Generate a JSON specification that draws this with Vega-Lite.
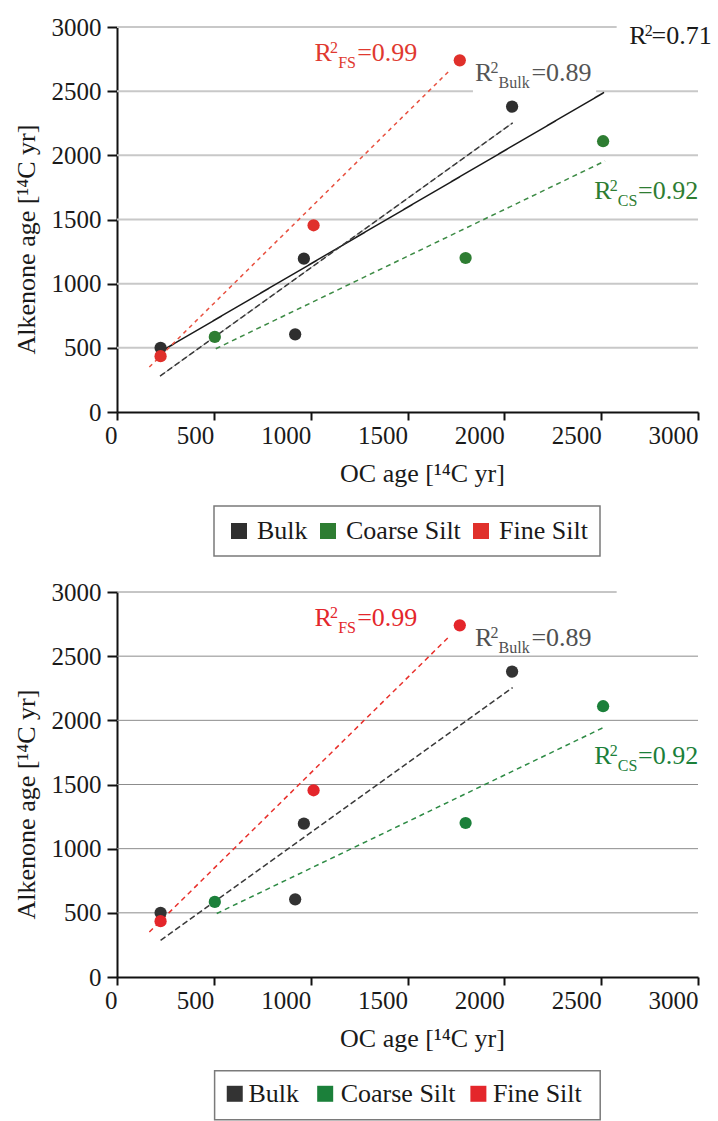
{
  "$schema": "https://vega.github.io/schema/vega-lite/v6.json",
  "background": "white",
  "padding": {"left": 13, "top": 15, "right": 0, "bottom": 2},
  "spacing": 23,
  "config": {
    "view": {"stroke": null},
    "font": "Liberation Serif",
    "axis": {
      "labelFont": "Liberation Serif", "titleFont": "Liberation Serif",
      "labelFontSize": 25, "titleFontSize": 26, "titleFontWeight": "normal",
      "labelColor": "#1a1a1a", "titleColor": "#1a1a1a",
      "domainColor": "#111", "domainWidth": 2, "tickColor": "#111", "tickWidth": 2,
      "grid": false, "format": "d"
    },
    "legend": {
      "direction": "horizontal",
      "symbolType": "square", "symbolSize": 256, "symbolStrokeWidth": 0, "symbolOpacity": 1,
      "labelFont": "Liberation Serif", "labelFontSize": 26, "labelColor": "#1a1a1a",
      "labelOffset": 5, "columnPadding": 7, "padding": 12,
      "strokeColor": "#7a7a7a", "strokeWidth": 1.5, "fillColor": "white", "title": null
    }
  },
  "datasets": {
    "points": [
      {"panel": 1, "series": "Bulk", "x": 225, "y": 500},
      {"panel": 1, "series": "Bulk", "x": 920, "y": 605},
      {"panel": 1, "series": "Bulk", "x": 965, "y": 1195},
      {"panel": 1, "series": "Bulk", "x": 2040, "y": 2380},
      {"panel": 1, "series": "Coarse Silt", "x": 505, "y": 585},
      {"panel": 1, "series": "Coarse Silt", "x": 1800, "y": 1200},
      {"panel": 1, "series": "Coarse Silt", "x": 2510, "y": 2110},
      {"panel": 1, "series": "Fine Silt", "x": 225, "y": 435},
      {"panel": 1, "series": "Fine Silt", "x": 1015, "y": 1455},
      {"panel": 1, "series": "Fine Silt", "x": 1770, "y": 2740},
      {"panel": 2, "series": "Bulk", "x": 225, "y": 500},
      {"panel": 2, "series": "Bulk", "x": 920, "y": 605},
      {"panel": 2, "series": "Bulk", "x": 965, "y": 1195},
      {"panel": 2, "series": "Bulk", "x": 2040, "y": 2380},
      {"panel": 2, "series": "Coarse Silt", "x": 505, "y": 585},
      {"panel": 2, "series": "Coarse Silt", "x": 1800, "y": 1200},
      {"panel": 2, "series": "Coarse Silt", "x": 2510, "y": 2110},
      {"panel": 2, "series": "Fine Silt", "x": 225, "y": 435},
      {"panel": 2, "series": "Fine Silt", "x": 1015, "y": 1455},
      {"panel": 2, "series": "Fine Silt", "x": 1770, "y": 2740}
    ],
    "fits": [
      {"panel": 1, "series": "All", "x": 230, "y": 475},
      {"panel": 1, "series": "All", "x": 2515, "y": 2490},
      {"panel": 1, "series": "Bulk", "x": 222, "y": 280},
      {"panel": 1, "series": "Bulk", "x": 2043, "y": 2253},
      {"panel": 1, "series": "Coarse Silt", "x": 510, "y": 493},
      {"panel": 1, "series": "Coarse Silt", "x": 2520, "y": 1956},
      {"panel": 1, "series": "Fine Silt", "x": 167, "y": 350},
      {"panel": 1, "series": "Fine Silt", "x": 1720, "y": 2665},
      {"panel": 2, "series": "Bulk", "x": 225, "y": 285},
      {"panel": 2, "series": "Bulk", "x": 2043, "y": 2255},
      {"panel": 2, "series": "Coarse Silt", "x": 515, "y": 495},
      {"panel": 2, "series": "Coarse Silt", "x": 2520, "y": 1950},
      {"panel": 2, "series": "Fine Silt", "x": 167, "y": 350},
      {"panel": 2, "series": "Fine Silt", "x": 1720, "y": 2660}
    ],
    "grid": [
      {"panel": 1, "y": 500, "x1": 0, "x2": 3000},
      {"panel": 1, "y": 1000, "x1": 0, "x2": 3000},
      {"panel": 1, "y": 1500, "x1": 0, "x2": 3000},
      {"panel": 1, "y": 2000, "x1": 0, "x2": 3000},
      {"panel": 1, "y": 2500, "x1": 0, "x2": 1838},
      {"panel": 1, "y": 2500, "x1": 2474, "x2": 3000},
      {"panel": 1, "y": 3000, "x1": 0, "x2": 2580},
      {"panel": 2, "y": 500, "x1": 0, "x2": 3000},
      {"panel": 2, "y": 1000, "x1": 0, "x2": 3000},
      {"panel": 2, "y": 1500, "x1": 0, "x2": 3000},
      {"panel": 2, "y": 2000, "x1": 0, "x2": 3000},
      {"panel": 2, "y": 2500, "x1": 0, "x2": 3000},
      {"panel": 2, "y": 3000, "x1": 0, "x2": 2580}
    ],
    "key": [
      {"series": "Bulk", "sx": 608, "lx": 679},
      {"series": "Coarse Silt", "sx": 1075, "lx": 1155},
      {"series": "Fine Silt", "sx": 1866, "lx": 1941}
    ],
    "labels": [
      {"panel": 1, "series": "Fine Silt", "part": "main", "x": 1020, "y": 2737, "text": "R"},
      {"panel": 1, "series": "Fine Silt", "part": "sup", "x": 1100, "y": 2799, "text": "2"},
      {"panel": 1, "series": "Fine Silt", "part": "sub", "x": 1142, "y": 2682, "text": "FS"},
      {"panel": 1, "series": "Fine Silt", "part": "main", "x": 1240, "y": 2737, "text": "=0.99"},
      {"panel": 1, "series": "Bulk", "part": "main", "x": 1848, "y": 2582, "text": "R"},
      {"panel": 1, "series": "Bulk", "part": "sup", "x": 1928, "y": 2644, "text": "2"},
      {"panel": 1, "series": "Bulk", "part": "sub", "x": 1970, "y": 2527, "text": "Bulk"},
      {"panel": 1, "series": "Bulk", "part": "main", "x": 2140, "y": 2582, "text": "=0.89"},
      {"panel": 1, "series": "All", "part": "main", "x": 2645, "y": 2870, "text": "R"},
      {"panel": 1, "series": "All", "part": "sup", "x": 2725, "y": 2932, "text": "2"},
      {"panel": 1, "series": "All", "part": "main", "x": 2760, "y": 2870, "text": "=0.71"},
      {"panel": 1, "series": "Coarse Silt", "part": "main", "x": 2464, "y": 1662, "text": "R"},
      {"panel": 1, "series": "Coarse Silt", "part": "sup", "x": 2544, "y": 1724, "text": "2"},
      {"panel": 1, "series": "Coarse Silt", "part": "sub", "x": 2586, "y": 1607, "text": "CS"},
      {"panel": 1, "series": "Coarse Silt", "part": "main", "x": 2690, "y": 1662, "text": "=0.92"},
      {"panel": 2, "series": "Fine Silt", "part": "main", "x": 1020, "y": 2737, "text": "R"},
      {"panel": 2, "series": "Fine Silt", "part": "sup", "x": 1100, "y": 2799, "text": "2"},
      {"panel": 2, "series": "Fine Silt", "part": "sub", "x": 1142, "y": 2682, "text": "FS"},
      {"panel": 2, "series": "Fine Silt", "part": "main", "x": 1240, "y": 2737, "text": "=0.99"},
      {"panel": 2, "series": "Bulk", "part": "main", "x": 1848, "y": 2582, "text": "R"},
      {"panel": 2, "series": "Bulk", "part": "sup", "x": 1928, "y": 2644, "text": "2"},
      {"panel": 2, "series": "Bulk", "part": "sub", "x": 1970, "y": 2527, "text": "Bulk"},
      {"panel": 2, "series": "Bulk", "part": "main", "x": 2140, "y": 2582, "text": "=0.89"},
      {"panel": 2, "series": "Coarse Silt", "part": "main", "x": 2464, "y": 1662, "text": "R"},
      {"panel": 2, "series": "Coarse Silt", "part": "sup", "x": 2544, "y": 1724, "text": "2"},
      {"panel": 2, "series": "Coarse Silt", "part": "sub", "x": 2586, "y": 1607, "text": "CS"},
      {"panel": 2, "series": "Coarse Silt", "part": "main", "x": 2690, "y": 1662, "text": "=0.92"}
    ]
  },
  "resolve": {
    "scale": {"color": "independent", "stroke": "independent", "fill": "independent", "strokeDash": "independent"},
    "legend": {"color": "independent", "fill": "independent"}
  },
  "vconcat": [
    {
      "width": 581, "height": 385,
      "layer": [
        {
          "data": {"name": "grid"},
          "transform": [{"filter": "datum.panel === 1"}],
          "mark": {"type": "rule", "color": "#c8c8c8", "strokeWidth": 2},
          "encoding": {
            "x": {"field": "x1", "type": "quantitative", "scale": {"domain": [0, 3000], "nice": false}, "title": "OC age [¹⁴C yr]",
              "axis": {"values": [0, 500, 1000, 1500, 2000, 2500, 3000], "tickSize": 8, "labelAlign": "right", "labelDx": 7, "labelPadding": 3, "titlePadding": 12, "titleX": 305}},
            "x2": {"field": "x2"},
            "y": {"field": "y", "type": "quantitative", "scale": {"domain": [0, 3000], "nice": false}, "title": "Alkenone age [¹⁴C yr]",
              "axis": {"values": [0, 250, 500, 750, 1000, 1250, 1500, 1750, 2000, 2250, 2500, 2750, 3000],
                "labelExpr": "datum.value % 500 === 0 ? datum.label : ''",
                "tickSize": {"condition": {"test": "datum.value % 500 === 0", "value": 10}, "value": 5},
                "labelPadding": 6, "labelBaseline": "middle", "labelDy": -3, "titlePadding": 12, "titleY": 212}}
          }
        },
        {
          "data": {"name": "fits"},
          "transform": [{"filter": "datum.panel === 1 && datum.series === 'Bulk'"}],
          "mark": {"type": "line", "color": "#b0b0b0", "strokeWidth": 1},
          "encoding": {
            "x": {"field": "x", "type": "quantitative", "title": "OC age [¹⁴C yr]"},
            "y": {"field": "y", "type": "quantitative", "title": "Alkenone age [¹⁴C yr]"}
          }
        },
        {
          "data": {"name": "fits"},
          "transform": [{"filter": "datum.panel === 1"}],
          "mark": {"type": "line", "strokeWidth": 1.5},
          "encoding": {
            "x": {"field": "x", "type": "quantitative", "title": "OC age [¹⁴C yr]"},
            "y": {"field": "y", "type": "quantitative", "title": "Alkenone age [¹⁴C yr]"},
            "detail": {"field": "series"},
            "stroke": {"field": "series", "type": "nominal", "legend": null,
              "scale": {"domain": ["All", "Bulk", "Coarse Silt", "Fine Silt"], "range": ["#1a1a1a", "#3a3a3a", "#3d8b45", "#e8503f"]}},
            "strokeDash": {"field": "series", "type": "nominal", "legend": null,
              "scale": {"domain": ["All", "Bulk", "Coarse Silt", "Fine Silt"], "range": [[1, 0], [6, 3], [5, 4], [4, 4]]}}
          }
        },
        {
          "data": {"name": "points"},
          "transform": [{"filter": "datum.panel === 1"}],
          "mark": {"type": "circle", "size": 150, "opacity": 1},
          "encoding": {
            "x": {"field": "x", "type": "quantitative", "title": "OC age [¹⁴C yr]"},
            "y": {"field": "y", "type": "quantitative", "title": "Alkenone age [¹⁴C yr]"},
            "color": {"field": "series", "type": "nominal",
              "legend": {"orient": "none", "legendX": 97, "legendY": 479},
              "scale": {"domain": ["Bulk", "Coarse Silt", "Fine Silt"], "range": ["#2f2f2f", "#2e7d32", "#e0302b"]}}
          }
        },
        {
          "data": {"name": "labels"},
          "transform": [{"filter": "datum.panel === 1 && datum.part === 'main'"}],
          "mark": {"type": "text", "align": "left", "baseline": "alphabetic", "fontSize": 26, "font": "Liberation Serif"},
          "encoding": {
            "x": {"field": "x", "type": "quantitative", "title": "OC age [¹⁴C yr]"},
            "y": {"field": "y", "type": "quantitative", "title": "Alkenone age [¹⁴C yr]"},
            "text": {"field": "text"},
            "fill": {"field": "series", "type": "nominal", "legend": null,
              "scale": {"domain": ["All", "Bulk", "Coarse Silt", "Fine Silt"], "range": ["#1a1a1a", "#555555", "#2e7d32", "#e0392f"]}}
          }
        },
        {
          "data": {"name": "labels"},
          "transform": [{"filter": "datum.panel === 1 && datum.part !== 'main'"}],
          "mark": {"type": "text", "align": "left", "baseline": "alphabetic", "fontSize": 16, "font": "Liberation Serif"},
          "encoding": {
            "x": {"field": "x", "type": "quantitative", "title": "OC age [¹⁴C yr]"},
            "y": {"field": "y", "type": "quantitative", "title": "Alkenone age [¹⁴C yr]"},
            "text": {"field": "text"},
            "fill": {"field": "series", "type": "nominal", "legend": null}
          }
        }
      ]
    },
    {
      "width": 581, "height": 385,
      "layer": [
        {
          "data": {"name": "grid"},
          "transform": [{"filter": "datum.panel === 2"}],
          "mark": {"type": "rule", "color": "#8c8c8c", "strokeWidth": 1},
          "encoding": {
            "x": {"field": "x1", "type": "quantitative", "scale": {"domain": [0, 3000], "nice": false}, "title": "OC age [¹⁴C yr]",
              "axis": {"values": [0, 500, 1000, 1500, 2000, 2500, 3000], "tickSize": 8, "labelAlign": "right", "labelDx": 7, "labelPadding": 3, "titlePadding": 12, "titleX": 305}},
            "x2": {"field": "x2"},
            "y": {"field": "y", "type": "quantitative", "scale": {"domain": [0, 3000], "nice": false}, "title": "Alkenone age [¹⁴C yr]",
              "axis": {"values": [0, 250, 500, 750, 1000, 1250, 1500, 1750, 2000, 2250, 2500, 2750, 3000],
                "labelExpr": "datum.value % 500 === 0 ? datum.label : ''",
                "tickSize": {"condition": {"test": "datum.value % 500 === 0", "value": 10}, "value": 5},
                "labelPadding": 6, "labelBaseline": "middle", "labelDy": -3, "titlePadding": 12, "titleY": 212}}
          }
        },
        {
          "data": {"name": "fits"},
          "transform": [{"filter": "datum.panel === 2"}],
          "mark": {"type": "line", "strokeWidth": 1.5},
          "encoding": {
            "x": {"field": "x", "type": "quantitative", "title": "OC age [¹⁴C yr]"},
            "y": {"field": "y", "type": "quantitative", "title": "Alkenone age [¹⁴C yr]"},
            "detail": {"field": "series"},
            "stroke": {"field": "series", "type": "nominal", "legend": null,
              "scale": {"domain": ["Bulk", "Coarse Silt", "Fine Silt"], "range": ["#3a3a3a", "#2e8b45", "#e8302b"]}},
            "strokeDash": {"field": "series", "type": "nominal", "legend": null,
              "scale": {"domain": ["Bulk", "Coarse Silt", "Fine Silt"], "range": [[6, 3], [5, 4], [5, 4]]}}
          }
        },
        {
          "data": {"name": "points"},
          "transform": [{"filter": "datum.panel === 2"}],
          "mark": {"type": "circle", "size": 150, "opacity": 1},
          "encoding": {
            "x": {"field": "x", "type": "quantitative", "title": "OC age [¹⁴C yr]"},
            "y": {"field": "y", "type": "quantitative", "title": "Alkenone age [¹⁴C yr]"},
            "fill": {"field": "series", "type": "nominal", "legend": null,
              "scale": {"domain": ["Bulk", "Coarse Silt", "Fine Silt"], "range": ["#333333", "#1b803a", "#e4262b"]}}
          }
        },
        {
          "data": {"values": [{}]},
          "mark": {"type": "rect", "fill": "white", "stroke": "#7a7a7a", "strokeWidth": 1.5},
          "encoding": {
            "x": {"datum": 504, "type": "quantitative", "title": "OC age [¹⁴C yr]"},
            "x2": {"datum": 2495},
            "y": {"datum": -730, "type": "quantitative", "title": "Alkenone age [¹⁴C yr]"},
            "y2": {"datum": -1112}
          }
        },
        {
          "data": {"name": "key"},
          "mark": {"type": "square", "size": 256, "opacity": 1, "filled": true},
          "encoding": {
            "x": {"field": "sx", "type": "quantitative", "title": "OC age [¹⁴C yr]"},
            "y": {"datum": -910, "type": "quantitative", "title": "Alkenone age [¹⁴C yr]"},
            "fill": {"field": "series", "type": "nominal", "legend": null}
          }
        },
        {
          "data": {"name": "key"},
          "mark": {"type": "text", "align": "left", "baseline": "middle", "fontSize": 26, "font": "Liberation Serif", "color": "#1a1a1a"},
          "encoding": {
            "x": {"field": "lx", "type": "quantitative", "title": "OC age [¹⁴C yr]"},
            "y": {"datum": -910, "type": "quantitative", "title": "Alkenone age [¹⁴C yr]"},
            "text": {"field": "series"}
          }
        },
        {
          "data": {"name": "labels"},
          "transform": [{"filter": "datum.panel === 2 && datum.part === 'main'"}],
          "mark": {"type": "text", "align": "left", "baseline": "alphabetic", "fontSize": 26, "font": "Liberation Serif"},
          "encoding": {
            "x": {"field": "x", "type": "quantitative", "title": "OC age [¹⁴C yr]"},
            "y": {"field": "y", "type": "quantitative", "title": "Alkenone age [¹⁴C yr]"},
            "text": {"field": "text"},
            "color": {"field": "series", "type": "nominal", "legend": null,
              "scale": {"domain": ["Bulk", "Coarse Silt", "Fine Silt"], "range": ["#505050", "#1b803a", "#e4262b"]}}
          }
        },
        {
          "data": {"name": "labels"},
          "transform": [{"filter": "datum.panel === 2 && datum.part !== 'main'"}],
          "mark": {"type": "text", "align": "left", "baseline": "alphabetic", "fontSize": 16, "font": "Liberation Serif"},
          "encoding": {
            "x": {"field": "x", "type": "quantitative", "title": "OC age [¹⁴C yr]"},
            "y": {"field": "y", "type": "quantitative", "title": "Alkenone age [¹⁴C yr]"},
            "text": {"field": "text"},
            "color": {"field": "series", "type": "nominal", "legend": null}
          }
        }
      ]
    }
  ]
}
